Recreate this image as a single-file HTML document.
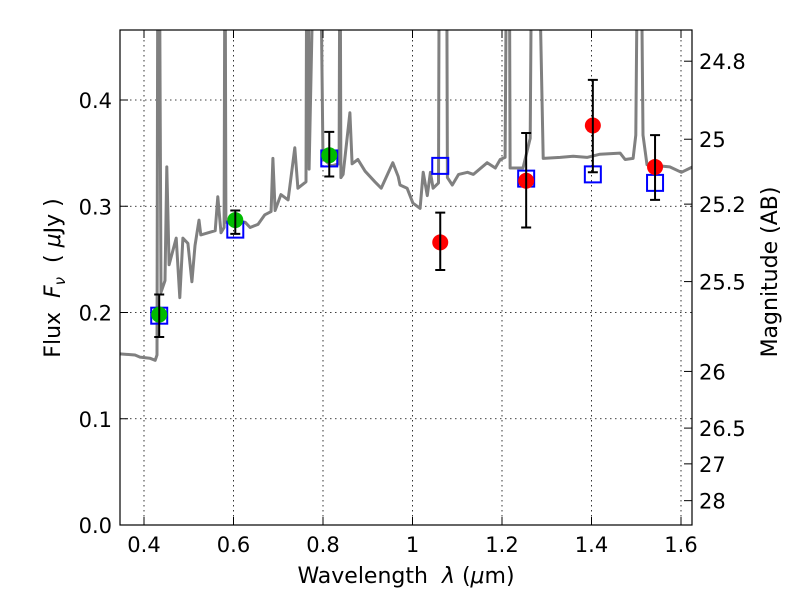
<!DOCTYPE html>
<html><head><meta charset="utf-8"><style>
html,body{margin:0;padding:0;background:#fff;}
svg text{font-family:"DejaVu Sans","Liberation Sans",sans-serif;fill:#000;white-space:pre;}
</style></head><body>
<svg id="chart" width="800" height="600" xmlns="http://www.w3.org/2000/svg">
<rect width="800" height="600" fill="#fff"/>
<defs><clipPath id="clip"><rect x="120" y="30" width="572" height="495"/></clipPath></defs>
<g id="grid"></g>
<g id="spec" clip-path="url(#clip)"></g>
<g id="marks"></g>
<rect x="120" y="30" width="572" height="495" fill="none" stroke="#000" stroke-width="1.2"/>
<g id="axes"></g>
<text x="406" y="583" font-size="22" text-anchor="middle">Wavelength  <tspan font-style="italic">λ</tspan> (<tspan font-style="italic">μ</tspan>m)</text>
<text transform="translate(60,278) rotate(-90)" font-size="22" text-anchor="middle">Flux  <tspan font-style="italic">F</tspan><tspan font-style="italic" font-size="15" dy="5">ν</tspan><tspan dy="-5">  ( </tspan><tspan font-style="italic">μ</tspan>Jy )</text>
<text transform="translate(777,272) rotate(-90)" font-size="22" text-anchor="middle">Magnitude (AB)</text>
</svg>
<script>
const specLam=[0.346,0.380,0.391,0.413,0.425,0.429,0.431,0.434,0.438,0.447,0.451,0.456,0.472,0.480,0.487,0.498,0.507,0.514,0.523,0.527,0.559,0.565,0.572,0.579,0.581,0.583,0.592,0.626,0.637,0.655,0.670,0.684,0.688,0.693,0.706,0.722,0.737,0.744,0.762,0.764,0.767,0.769,0.782,0.787,0.793,0.800,0.818,0.836,0.838,0.840,0.845,0.860,0.865,0.878,0.894,0.916,0.930,0.956,0.968,0.972,0.988,1.001,1.017,1.024,1.033,1.040,1.046,1.058,1.060,1.062,1.074,1.076,1.078,1.089,1.103,1.123,1.136,1.167,1.185,1.196,1.207,1.211,1.216,1.218,1.247,1.263,1.267,1.269,1.276,1.280,1.292,1.330,1.359,1.390,1.419,1.464,1.475,1.493,1.499,1.504,1.510,1.515,1.524,1.575,1.601,1.626];
const specFlux=[0.161,0.160,0.158,0.157,0.155,0.160,0.600,0.600,0.219,0.230,0.337,0.245,0.270,0.214,0.270,0.265,0.229,0.263,0.287,0.273,0.277,0.309,0.275,0.280,0.600,0.285,0.285,0.285,0.280,0.283,0.292,0.295,0.345,0.296,0.311,0.306,0.355,0.317,0.323,0.600,0.600,0.335,0.600,0.600,0.600,0.345,0.338,0.340,0.600,0.327,0.330,0.388,0.340,0.344,0.333,0.323,0.317,0.341,0.328,0.320,0.317,0.303,0.298,0.332,0.310,0.332,0.317,0.322,0.600,0.600,0.600,0.600,0.327,0.320,0.330,0.332,0.330,0.341,0.336,0.344,0.346,0.600,0.600,0.336,0.336,0.364,0.600,0.600,0.600,0.600,0.345,0.346,0.347,0.346,0.349,0.350,0.344,0.345,0.367,0.600,0.600,0.367,0.339,0.337,0.332,0.337];
const obsLam=[0.434,0.604,0.814,1.062,1.254,1.403,1.542];
const obsFlux=[0.198,0.287,0.348,0.266,0.324,0.376,0.337];
const obsLo=[0.177,0.274,0.328,0.240,0.280,0.332,0.306];
const obsHi=[0.217,0.296,0.370,0.294,0.369,0.419,0.367];
const obsColor=['#00bb00','#00bb00','#00bb00','#ff0000','#ff0000','#ff0000','#ff0000'];
const modelFlux=[0.197,0.278,0.345,0.338,0.326,0.330,0.322];
const xTicks=[0.4,0.6,0.8,1.0,1.2,1.4,1.6];
const xTickLabels=['0.4','0.6','0.8','1','1.2','1.4','1.6'];
const yTicks=[0,0.1,0.2,0.3,0.4];
const yTickLabels=['0.0','0.1','0.2','0.3','0.4'];
const magTicks=[24.8,25,25.2,25.5,26,26.5,27,28];
const magTickLabels=['24.8','25','25.2','25.5','26','26.5','27','28'];

const NS='http://www.w3.org/2000/svg';
const X=l=>144+(l-0.4)*447.5;
const Y=f=>525-f*1062.5;
function mk(tag,attrs,parent){const e=document.createElementNS(NS,tag);for(const k in attrs)e.setAttribute(k,attrs[k]);parent.appendChild(e);return e;}
const grid=document.getElementById('grid'),spec=document.getElementById('spec'),marks=document.getElementById('marks'),axes=document.getElementById('axes');

xTicks.forEach((t,i)=>{const x=X(t);
 const g=mk('line',{x1:x,x2:x,y1:30,y2:525,stroke:'#000','stroke-width':0.8,'stroke-dasharray':'1.5,3.5'},grid);
 
 
 mk('line',{x1:x,x2:x,y1:525,y2:517,stroke:'#000'},axes);
 mk('line',{x1:x,x2:x,y1:30,y2:38,stroke:'#000'},axes);
 const tx=mk('text',{x:x,y:552,'font-size':21,'text-anchor':'middle'},axes);tx.textContent=xTickLabels[i];
 
 
});
yTicks.forEach((t,i)=>{const y=Y(t);
 if(t>0){const g=mk('line',{x1:120,x2:692,y1:y,y2:y,stroke:'#000','stroke-width':0.8,'stroke-dasharray':'1.5,3.5'},grid);
 
 }
 mk('line',{x1:120,x2:128,y1:y,y2:y,stroke:'#000'},axes);
 const tx=mk('text',{x:112,y:y+8,'font-size':21,'text-anchor':'end'},axes);tx.textContent=yTickLabels[i];
 
 
});
magTicks.forEach((m,i)=>{const f=Math.pow(10,(23.9-m)/2.5);const y=Y(f);
 mk('line',{x1:684,x2:692,y1:y,y2:y,stroke:'#000'},axes);
 const tx=mk('text',{x:699,y:y+8,'font-size':21},axes);tx.textContent=magTickLabels[i];
 
 
});

const pts=specLam.map((l,i)=>X(l).toFixed(1)+','+Y(specFlux[i]).toFixed(1)).join(' ');
const pl=mk('polyline',{points:pts,fill:'none',stroke:'#808080','stroke-width':3,'stroke-linejoin':'round'},spec);



obsLam.forEach((l,i)=>{const x=X(l);
 const sq=mk('rect',{x:x-8,y:Y(modelFlux[i])-8,width:16,height:16,fill:'none',stroke:'#0000ff','stroke-width':2},marks);
 
 
});
obsLam.forEach((l,i)=>{const x=X(l);
 const c=mk('circle',{cx:x,cy:Y(obsFlux[i]),r:8,fill:obsColor[i]},marks);
 
 
 const yl=Y(obsLo[i]),yh=Y(obsHi[i]);
 const eb=mk('path',{d:`M${x},${yl}V${yh}M${x-5},${yl}H${x+5}M${x-5},${yh}H${x+5}`,stroke:'#000','stroke-width':2,fill:'none'},marks);
 
 
});
</script>
</body></html>
